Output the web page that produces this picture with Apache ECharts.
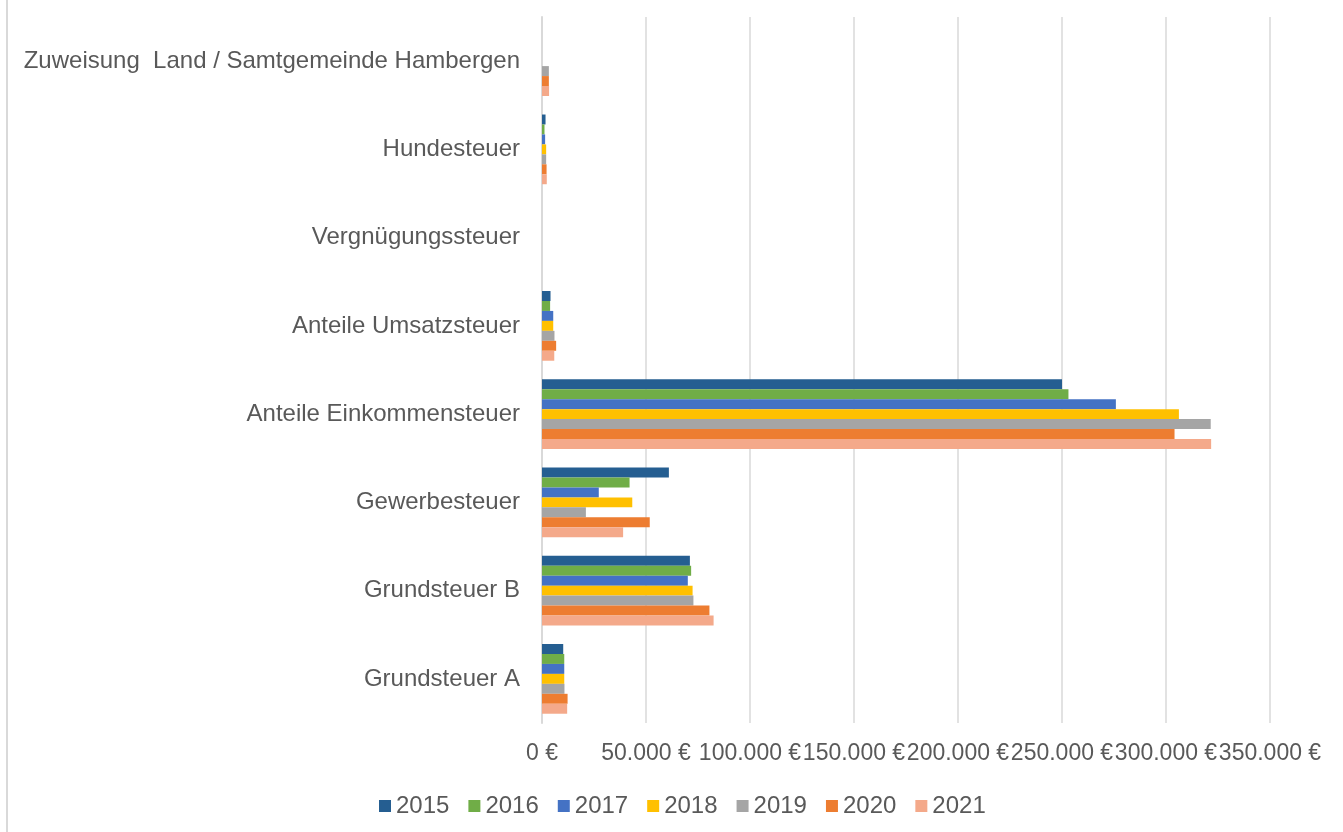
<!DOCTYPE html>
<html lang="de">
<head>
  <meta charset="UTF-8">
  <title>Steuereinnahmen 2015–2021</title>
  <script src="https://cdn.jsdelivr.net/npm/echarts@6.0.0/dist/echarts.min.js"></script>
  <style>
    html, body { margin: 0; padding: 0; background: #fff; }
    #chart { width: 1343px; height: 832px; }
  </style>
</head>
<body>
  <div id="chart"></div>
  <script>
    // Kategorien (von unten nach oben, wie die Kategorieachse sie zeichnet)
    const categories = [
      'Grundsteuer A',
      'Grundsteuer B',
      'Gewerbesteuer',
      'Anteile Einkommensteuer',
      'Anteile Umsatzsteuer',
      'Vergnügungssteuer',
      'Hundesteuer',
      'Zuweisung  Land / Samtgemeinde Hambergen'
    ];

    const years = ['2015', '2016', '2017', '2018', '2019', '2020', '2021'];
    const colors = ['#255E91', '#70AD47', '#4472C4', '#FFC000', '#A5A5A5', '#ED7D31', '#F4A98A'];

    // Werte je Jahr, gleiche Reihenfolge wie categories
    const v2015 = [10200, 71100, 61000, 250000, 4100, 0, 1700, 0];
    const v2016 = [10700, 71700, 42100, 253100, 3900, 0, 1200, 0];
    const v2017 = [10700, 70100, 27300, 275900, 5400, 0, 1500, 0];
    const v2018 = [10700, 72400, 43400, 306200, 5400, 0, 2000, 0];
    const v2019 = [10800, 72800, 21100, 321500, 6000, 0, 2000, 3300];
    const v2020 = [12300, 80500, 51800, 304100, 6800, 0, 2200, 3300];
    const v2021 = [12100, 82500, 39000, 321700, 5900, 0, 2300, 3400];
    const values = [v2015, v2016, v2017, v2018, v2019, v2020, v2021];

    const textColor = '#595959';
    const font = 'Liberation Sans, Arial, sans-serif';

    function euro(v) {
      return String(v).replace(/\B(?=(\d{3})+(?!\d))/g, '.') + ' €';
    }

    const chart = echarts.init(document.getElementById('chart'));

    chart.setOption({
      backgroundColor: '#ffffff',
      animation: false,
      textStyle: { fontFamily: font },
      graphic: [{
        type: 'rect',
        shape: { x: 6, y: 0, width: 2, height: 832 },
        style: { fill: '#D9D9D9' }
      }],
      legend: {
        data: years,
        left: 374,
        top: 789,
        itemWidth: 12,
        itemHeight: 12,
        itemGap: 19,
        icon: 'rect',
        textStyle: { color: textColor, fontSize: 24, fontFamily: font }
      },
      grid: {
        left: 542,
        right: 73,
        top: 17,
        bottom: 109,
        containLabel: false
      },
      xAxis: {
        type: 'value',
        min: 0,
        max: 350000,
        interval: 50000,
        axisLine: { show: false },
        axisTick: { show: false },
        splitLine: { lineStyle: { color: '#D9D9D9', width: 1.5 } },
        axisLabel: {
          color: textColor,
          fontSize: 23,
          fontFamily: font,
          margin: 19,
          hideOverlap: false,
          showMinLabel: true,
          showMaxLabel: true,
          formatter: euro
        }
      },
      yAxis: {
        type: 'category',
        data: categories,
        axisLine: { show: true, lineStyle: { color: '#D9D9D9', width: 2 } },
        axisTick: { show: false },
        axisLabel: {
          color: textColor,
          fontSize: 24,
          fontFamily: font,
          margin: 22
        }
      },
      series: years.map((y, i) => ({
        name: y,
        type: 'bar',
        data: values[i],
        barGap: '0%',
        barCategoryGap: '21%',
        itemStyle: { color: colors[i] }
      }))
    });
  </script>
</body>
</html>
